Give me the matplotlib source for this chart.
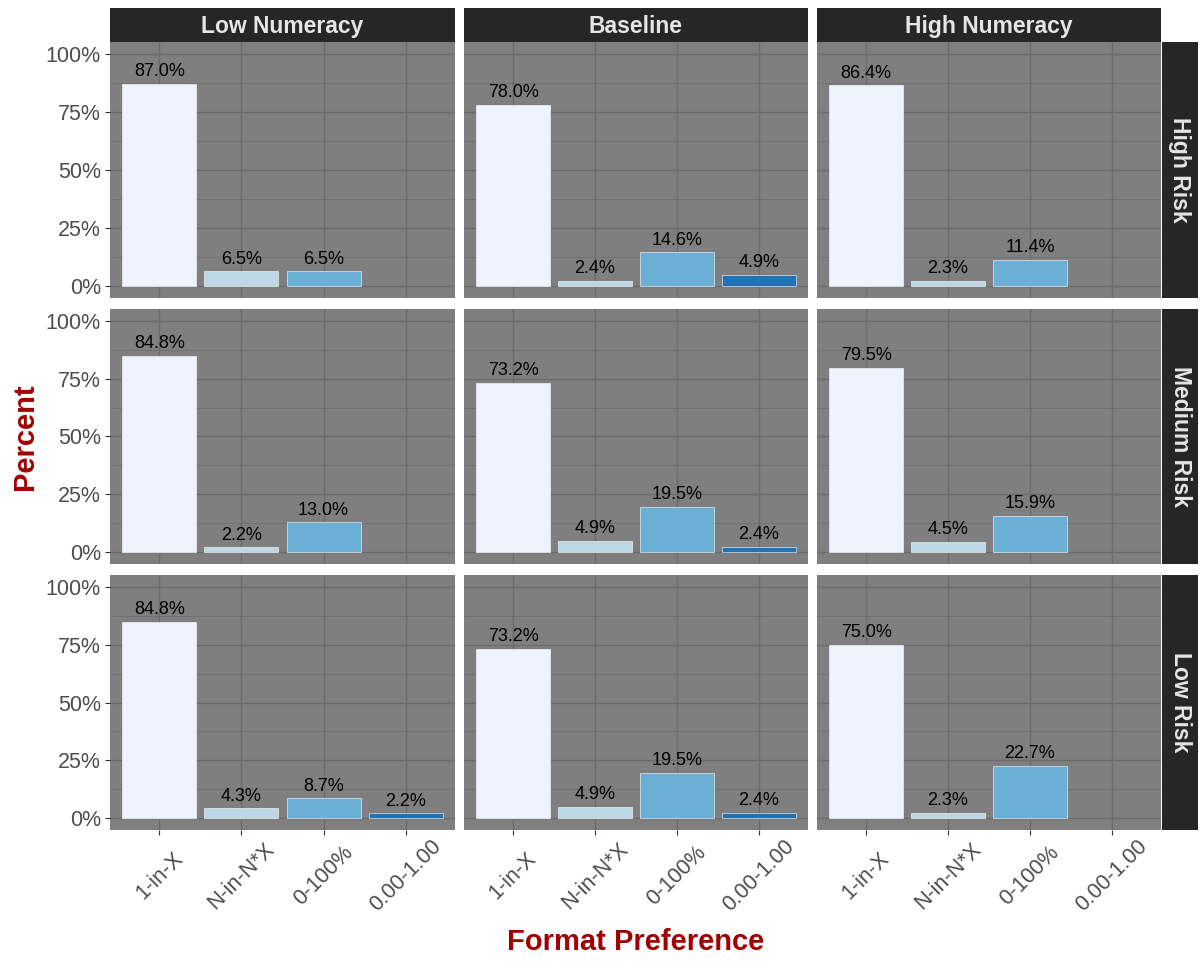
import matplotlib
matplotlib.use("Agg")
import matplotlib.pyplot as plt
import numpy as np

plt.rcParams['font.family'] = ['Liberation Sans', 'DejaVu Sans']

formats = ["1-in-X", "N-in-N*X", "0-100%", "0.00-1.00"]
numeracy = ["Low Numeracy", "Baseline", "High Numeracy"]
risks = ["High Risk", "Medium Risk", "Low Risk"]
colors = ["#EFF3FF", "#BDD7E7", "#6BAED6", "#2171B5"]

# percentages per format (None = no bar)
low_num_high = [87.0, 6.5, 6.5, None]
low_num_med = [84.8, 2.2, 13.0, None]
low_num_low = [84.8, 4.3, 8.7, 2.2]
base_high = [78.0, 2.4, 14.6, 4.9]
base_med = [73.2, 4.9, 19.5, 2.4]
base_low = [73.2, 4.9, 19.5, 2.4]
high_num_high = [86.4, 2.3, 11.4, None]
high_num_med = [79.5, 4.5, 15.9, None]
high_num_low = [75.0, 2.3, 22.7, None]

values = [
    [low_num_high, base_high, high_num_high],
    [low_num_med, base_med, high_num_med],
    [low_num_low, base_low, high_num_low],
]

W, H = 1200, 963
fig = plt.figure(figsize=(W / 100, H / 100), dpi=100)

col_x = [(110, 455), (464, 808), (817, 1161)]
row_y = [(42, 298), (309, 564), (575, 830)]
strip_top = (8, 42)
strip_right = (1162, 1198)

def ax_rect(x0, x1, y0, y1):
    return [x0 / W, 1 - y1 / H, (x1 - x0) / W, (y1 - y0) / H]

grid_col = "#6B6B6B"
tick_col = "#4D4D4D"
PX = 72 / 100  # points per pixel

for r in range(3):
    for c in range(3):
        ax = fig.add_axes(ax_rect(col_x[c][0], col_x[c][1], row_y[r][0], row_y[r][1]))
        ax.set_facecolor("#7F7F7F")
        ax.set_xlim(0.4, 4.6)
        ax.set_ylim(-5, 105)
        ax.set_yticks([0, 25, 50, 75, 100])
        ax.set_yticks([12.5, 37.5, 62.5, 87.5], minor=True)
        ax.set_xticks(range(1, 5))
        ax.grid(True, which="major", color=grid_col, linewidth=1.0)
        ax.grid(True, which="minor", axis="y", color=grid_col, linewidth=0.5)
        ax.set_axisbelow(True)
        for s in ax.spines.values():
            s.set_visible(False)
        vals = values[r][c]
        for i, v in enumerate(vals):
            if v is None:
                continue
            ax.bar(i + 1, v, width=0.9, color=colors[i], edgecolor="white",
                   linewidth=0.4, zorder=3)
            ax.text(i + 1, v + 1.6, f"{v:.1f}%", ha="center", va="bottom",
                    fontsize=13, color="black", zorder=4)
        ax.tick_params(axis="both", which="major", length=5 * PX, color="#333333",
                       labelsize=15.5, labelcolor=tick_col, width=0.8)
        ax.tick_params(axis="y", pad=4 * PX)
        ax.tick_params(axis="both", which="minor", length=0)
        if c == 0:
            ax.set_yticklabels(["0%", "25%", "50%", "75%", "100%"])
        else:
            ax.tick_params(axis="y", labelleft=False, length=0)
        if r == 2:
            ax.tick_params(axis="x", pad=41 * PX)
            ax.set_xticklabels(formats, rotation=45, ha="center", va="center",
                               rotation_mode="anchor")
        else:
            ax.tick_params(axis="x", labelbottom=False, length=0)

# top strips
for c in range(3):
    sax = fig.add_axes(ax_rect(col_x[c][0], col_x[c][1], strip_top[0], strip_top[1]))
    sax.set_facecolor("#262626")
    sax.set_xticks([]); sax.set_yticks([])
    for s in sax.spines.values():
        s.set_visible(False)
    sax.text(0.5, (42 - 33) / 34, numeracy[c], ha="center", va="baseline",
             color="#E5E5E5", fontsize=16.5, fontweight="bold",
             transform=sax.transAxes)

# right strips
for r in range(3):
    sax = fig.add_axes(ax_rect(strip_right[0], strip_right[1], row_y[r][0], row_y[r][1]))
    sax.set_facecolor("#262626")
    sax.set_xticks([]); sax.set_yticks([])
    for s in sax.spines.values():
        s.set_visible(False)
    sax.text(0.5, 0.5, risks[r], ha="center", va="center", color="#E5E5E5",
             fontsize=16.5, fontweight="bold", rotation=-90, transform=sax.transAxes)

title_col = "#A00000"
fig.text(25 / W, 1 - 437 / H, "Percent", rotation=90, ha="center", va="center",
         fontsize=21, fontweight="bold", color=title_col)
fig.text(636 / W, 1 - 942 / H, "Format Preference", ha="center", va="center",
         fontsize=21, fontweight="bold", color=title_col)

fig.savefig("out.png", dpi=100, facecolor="white")
